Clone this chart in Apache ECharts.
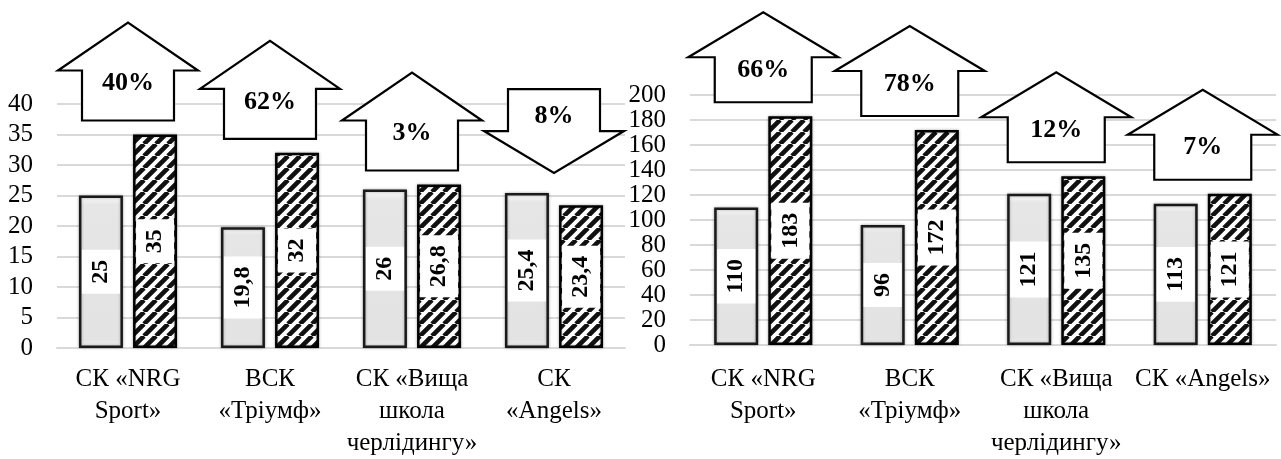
<!DOCTYPE html>
<html>
<head>
<meta charset="utf-8">
<script src="https://cdn.jsdelivr.net/npm/echarts@6/dist/echarts.min.js"></script>
<style>
  html, body { margin: 0; padding: 0; background: #fff; }
  #chart { width: 1281px; height: 459px; }
</style>
</head>
<body>
<div id="chart"></div>
<script>
// категорії та значення (ліва та права діаграми)
const cats1 = ['СК «NRG\nSport»', 'ВСК\n«Тріумф»', 'СК «Вища\nшкола\nчерлідингу»', 'СК\n«Angels»'];
const cats2 = ['СК «NRG\nSport»', 'ВСК\n«Тріумф»', 'СК «Вища\nшкола\nчерлідингу»', 'СК «Angels»'];
const before1 = [25, 19.8, 26, 25.4];
const after1 = [35, 32, 26.8, 23.4];
const change1 = [40, 62, 3, -8];
const before2 = [110, 96, 121, 113];
const after2 = [183, 172, 135, 121];
const change2 = [66, 78, 12, 7];

const FONT = "Times New Roman, Liberation Serif, DejaVu Serif, serif";

function hatch() {
  const s = 12;
  const c = document.createElement('canvas');
  c.width = c.height = s;
  const ctx = c.getContext('2d');
  ctx.fillStyle = '#fff';
  ctx.fillRect(0, 0, s, s);
  ctx.strokeStyle = '#111';
  ctx.lineWidth = 4.6;
  ctx.beginPath();
  [0, s, 2 * s].forEach((k) => {
    ctx.moveTo(k - s, s);
    ctx.lineTo(k, 0);
  });
  ctx.stroke();
  return c;
}
const hatchImg = hatch();

const grayFill = {
  type: 'linear', x: 0, y: 0, x2: 0, y2: 1,
  colorStops: [
    { offset: 0, color: '#fdfdfd' },
    { offset: 0.06, color: '#e6e6e6' },
    { offset: 0.95, color: '#e3e3e3' },
    { offset: 1, color: '#f2f2f2' },
  ],
};

function barLabel() {
  return {
    show: true,
    position: 'inside',
    rotate: 90,
    formatter: (p) => String(p.value).replace('.', ','),
    fontFamily: FONT,
    fontWeight: 'bold',
    fontSize: 24,
    color: '#000',
    backgroundColor: '#fff',
    padding: [7, 10],
  };
}

// стрілки з відсотком зміни
function arrowItem(d) {
  return function (params, api) {
    const p = api.coord([api.value(0), api.value(1)]);
    const pct = api.value(2);
    const cx = p[0];
    const hw = d.wing / 2, hb = d.body / 2;
    let pts, ty;
    if (pct >= 0) {
      const b = p[1] - d.gap;
      const wy = b - d.bodyH, top = wy - d.head;
      pts = [[cx - hb, b], [cx + hb, b], [cx + hb, wy], [cx + hw, wy], [cx, top], [cx - hw, wy], [cx - hb, wy]];
      ty = wy + 13;
    } else {
      const tip = p[1] - d.gap - 6;
      const wy = tip - 42, top = wy - 42;
      pts = [[cx - hb, top], [cx + hb, top], [cx + hb, wy], [cx + hw, wy], [cx, tip], [cx - hw, wy], [cx - hb, wy]];
      ty = top + 27;
    }
    return {
      type: 'group',
      children: [
        { type: 'polygon', shape: { points: pts }, style: { fill: '#fff', stroke: '#000', lineWidth: 2.2 } },
        {
          type: 'text',
          style: {
            text: Math.abs(pct) + '%', x: cx, y: ty, align: 'center', verticalAlign: 'middle',
            fontFamily: FONT, fontWeight: 'bold', fontSize: 26, fill: '#000',
          },
        },
      ],
    };
  };
}

function xAxisOf(idx, data, margin) {
  return {
    type: 'category',
    gridIndex: idx,
    data: data,
    axisTick: { show: false },
    axisLine: { lineStyle: { color: '#d9d9d9', width: 2 } },
    axisLabel: {
      interval: 0, hideOverlap: false, color: '#000', fontFamily: FONT,
      fontSize: 25, lineHeight: 32, margin: margin,
    },
    splitLine: { show: false },
  };
}

function yAxisOf(idx, max, step) {
  return {
    type: 'value',
    gridIndex: idx,
    min: 0, max: max, interval: step,
    axisLine: { show: false },
    axisTick: { show: false },
    splitLine: { lineStyle: { color: '#d9d9d9', width: 2 } },
    axisLabel: { color: '#000', fontFamily: FONT, fontSize: 25, margin: 24 },
  };
}

function barsOf(idx, before, after, gap) {
  return [
    {
      type: 'bar', xAxisIndex: idx, yAxisIndex: idx, data: before,
      barWidth: 44, barGap: gap,
      itemStyle: { color: grayFill, borderColor: '#1a1a1a', borderWidth: 2.5, shadowColor: 'rgba(0,0,0,0.3)', shadowBlur: 3 },
      label: barLabel(),
    },
    {
      type: 'bar', xAxisIndex: idx, yAxisIndex: idx, data: after,
      barWidth: 44, barGap: gap,
      itemStyle: { color: { image: hatchImg, repeat: 'repeat' }, borderColor: '#000', borderWidth: 2.5, shadowColor: 'rgba(0,0,0,0.3)', shadowBlur: 3 },
      label: barLabel(),
    },
  ];
}

function arrowsOf(idx, before, after, change, dims) {
  return {
    type: 'custom',
    xAxisIndex: idx, yAxisIndex: idx,
    renderItem: arrowItem(dims),
    encode: { x: 0, y: 1 },
    data: change.map((c, i) => [i, Math.max(before[i], after[i]), c]),
    z: 10,
    silent: true,
  };
}

const myChart = echarts.init(document.getElementById('chart'));
let option;
option = {
  animation: false,
  backgroundColor: '#fff',
  textStyle: { fontFamily: FONT },
  grid: [
    { left: 57, top: 104, width: 568, height: 248 },
    { left: 690, top: 95, width: 586, height: 253 },
  ],
  xAxis: [xAxisOf(0, cats1, 15), xAxisOf(1, cats2, 18)],
  yAxis: [yAxisOf(0, 40, 5), yAxisOf(1, 200, 20)],
  series: [
    ...barsOf(0, before1, after1, '23%'),
    ...barsOf(1, before2, after2, '23%'),
    arrowsOf(0, before1, after1, change1, { gap: 14, wing: 140, body: 92, head: 48, bodyH: 50 }),
    arrowsOf(1, before2, after2, change2, { gap: 14, wing: 150, body: 97, head: 45, bodyH: 45 }),
  ],
};
option && myChart.setOption(option);
</script>
</body>
</html>
